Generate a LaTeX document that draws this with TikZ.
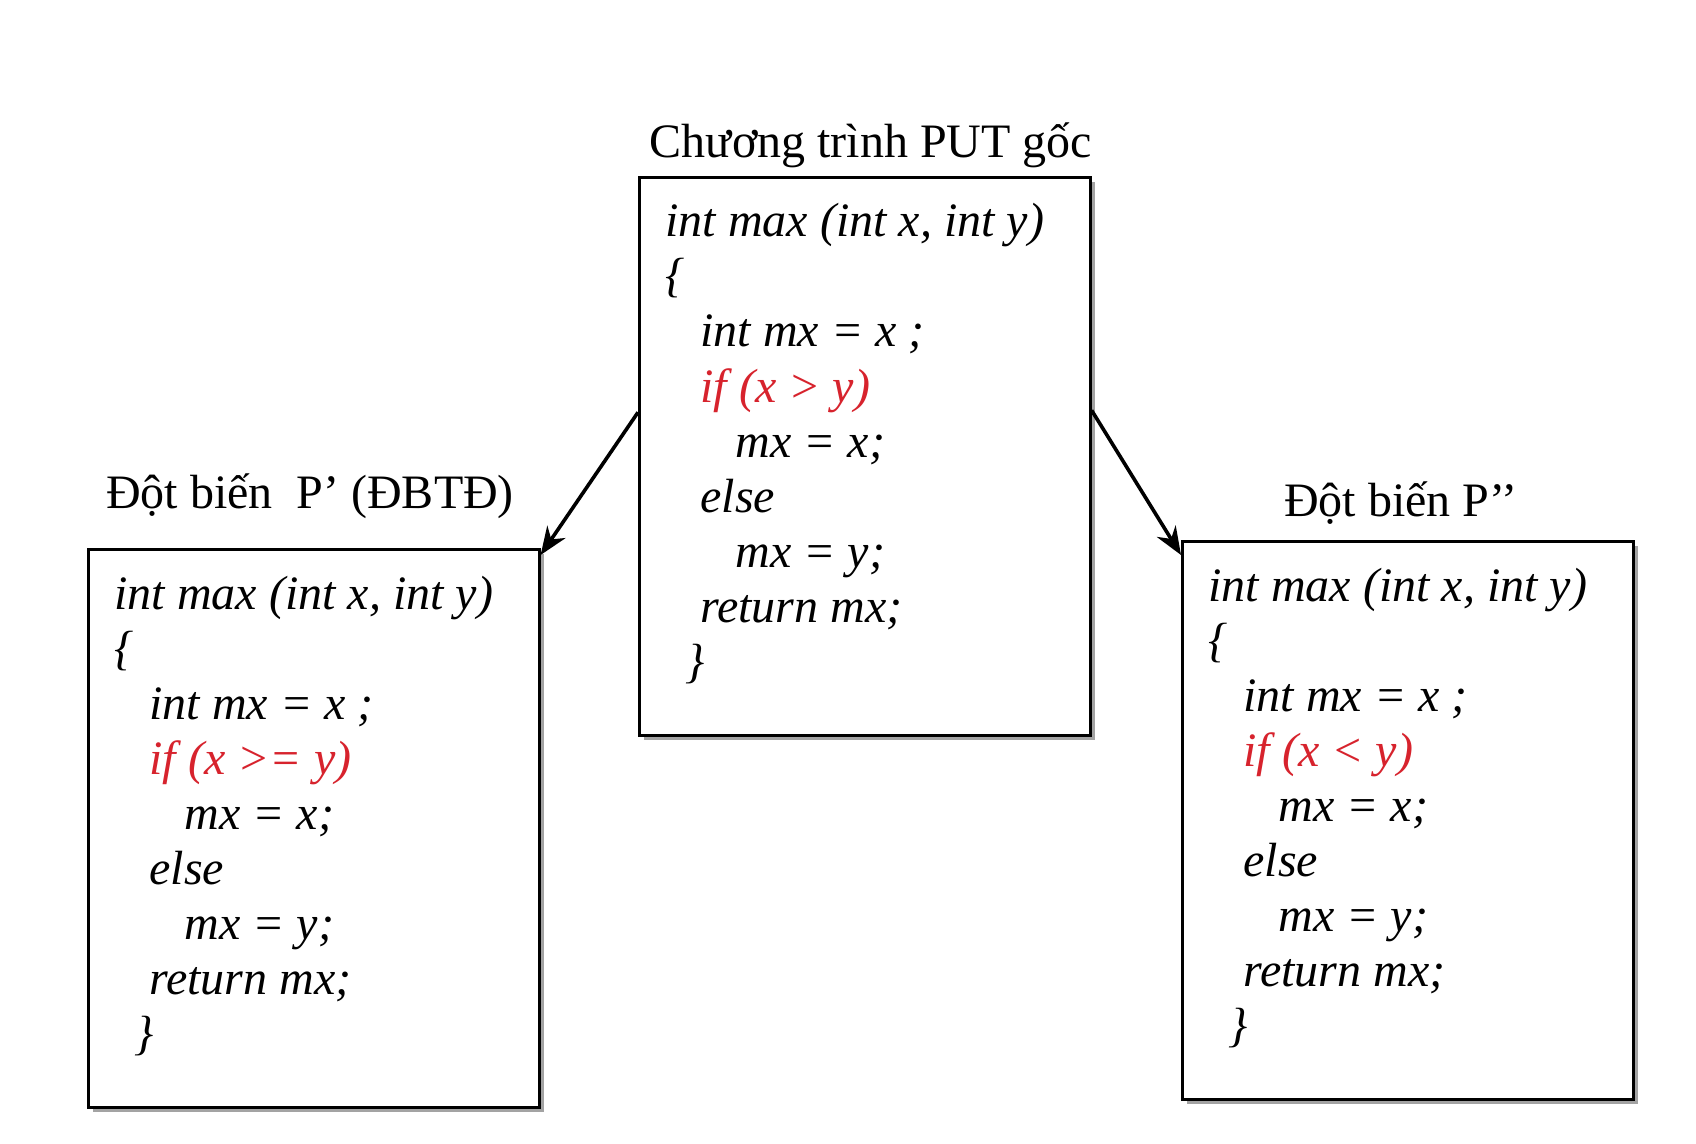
\documentclass[tikz,border=0pt]{standalone}
\usepackage{fontspec}
\setmainfont{Liberation Serif}
\usetikzlibrary{arrows.meta,shadows,calc}
\definecolor{codered}{RGB}{215,35,45}
\definecolor{shadowgray}{RGB}{140,140,140}
\newcommand\mycodelines[3]{%
  \node[code] (#1-1) at ($(#2.north west)+(27,61)$) {int max (int x, int y)};
  \node[code] (#1-2) at ($(#2.north west)+(27,116)$) {\{};
  \node[code] (#1-3) at ($(#2.north west)+(62,171)$) {int mx = x ;};
  \node[code,text=codered] (#1-4) at ($(#2.north west)+(62,226)$) {if (x #3 y)};
  \node[code] (#1-5) at ($(#2.north west)+(97,281)$) {mx = x;};
  \node[code] (#1-6) at ($(#2.north west)+(62,336)$) {else};
  \node[code] (#1-7) at ($(#2.north west)+(97,391)$) {mx = y;};
  \node[code] (#1-8) at ($(#2.north west)+(62,446)$) {return mx;};
  \node[code] (#1-9) at ($(#2.north west)+(47,501)$) {\}};
}
\begin{document}
\begin{tikzpicture}[x=0.5pt,y=-0.5pt,
  codebox/.style={draw=black, line width=1.3pt, fill=white, minimum width=225.5pt, minimum height=279pt, inner sep=0pt, anchor=north west, drop shadow={shadow xshift=2.2pt, shadow yshift=-2.2pt, fill=shadowgray, opacity=0.8}},
  title/.style={font=\fontsize{24}{28}\selectfont, inner sep=0pt, anchor=base},
  code/.style={font=\fontsize{24}{28}\selectfont\itshape, anchor=base west, inner sep=0pt},
  flow/.style={line width=1.8pt, -{Stealth[length=14pt,width=11pt]}}]
\fill[white] (0,0) rectangle (1696,1144);
\useasboundingbox (0,0) rectangle (1696,1144);

\node[codebox] (put) at (638,176) {};
\node[codebox] (left) at (87,548) {};
\node[codebox] (right) at (1181,540) {};

\node[title] (puttitle) at (871,158) {Chương trình PUT gốc};
\node[title] (lefttitle) at (310,508) {Đột biến\ \ P’ (ĐBTĐ)};
\node[title] (righttitle) at (1401,516) {Đột biến P’’};

\mycodelines{pc}{put}{>}
\mycodelines{lc}{left}{>=}
\mycodelines{rc}{right}{<}

\draw[flow] ($(put.west)+(0,-44)$) -- ($(left.north east)+(0,7)$);
\draw[flow] ($(put.east)+(0,-46)$) -- ($(right.north west)+(0,15)$);
\end{tikzpicture}
\end{document}
